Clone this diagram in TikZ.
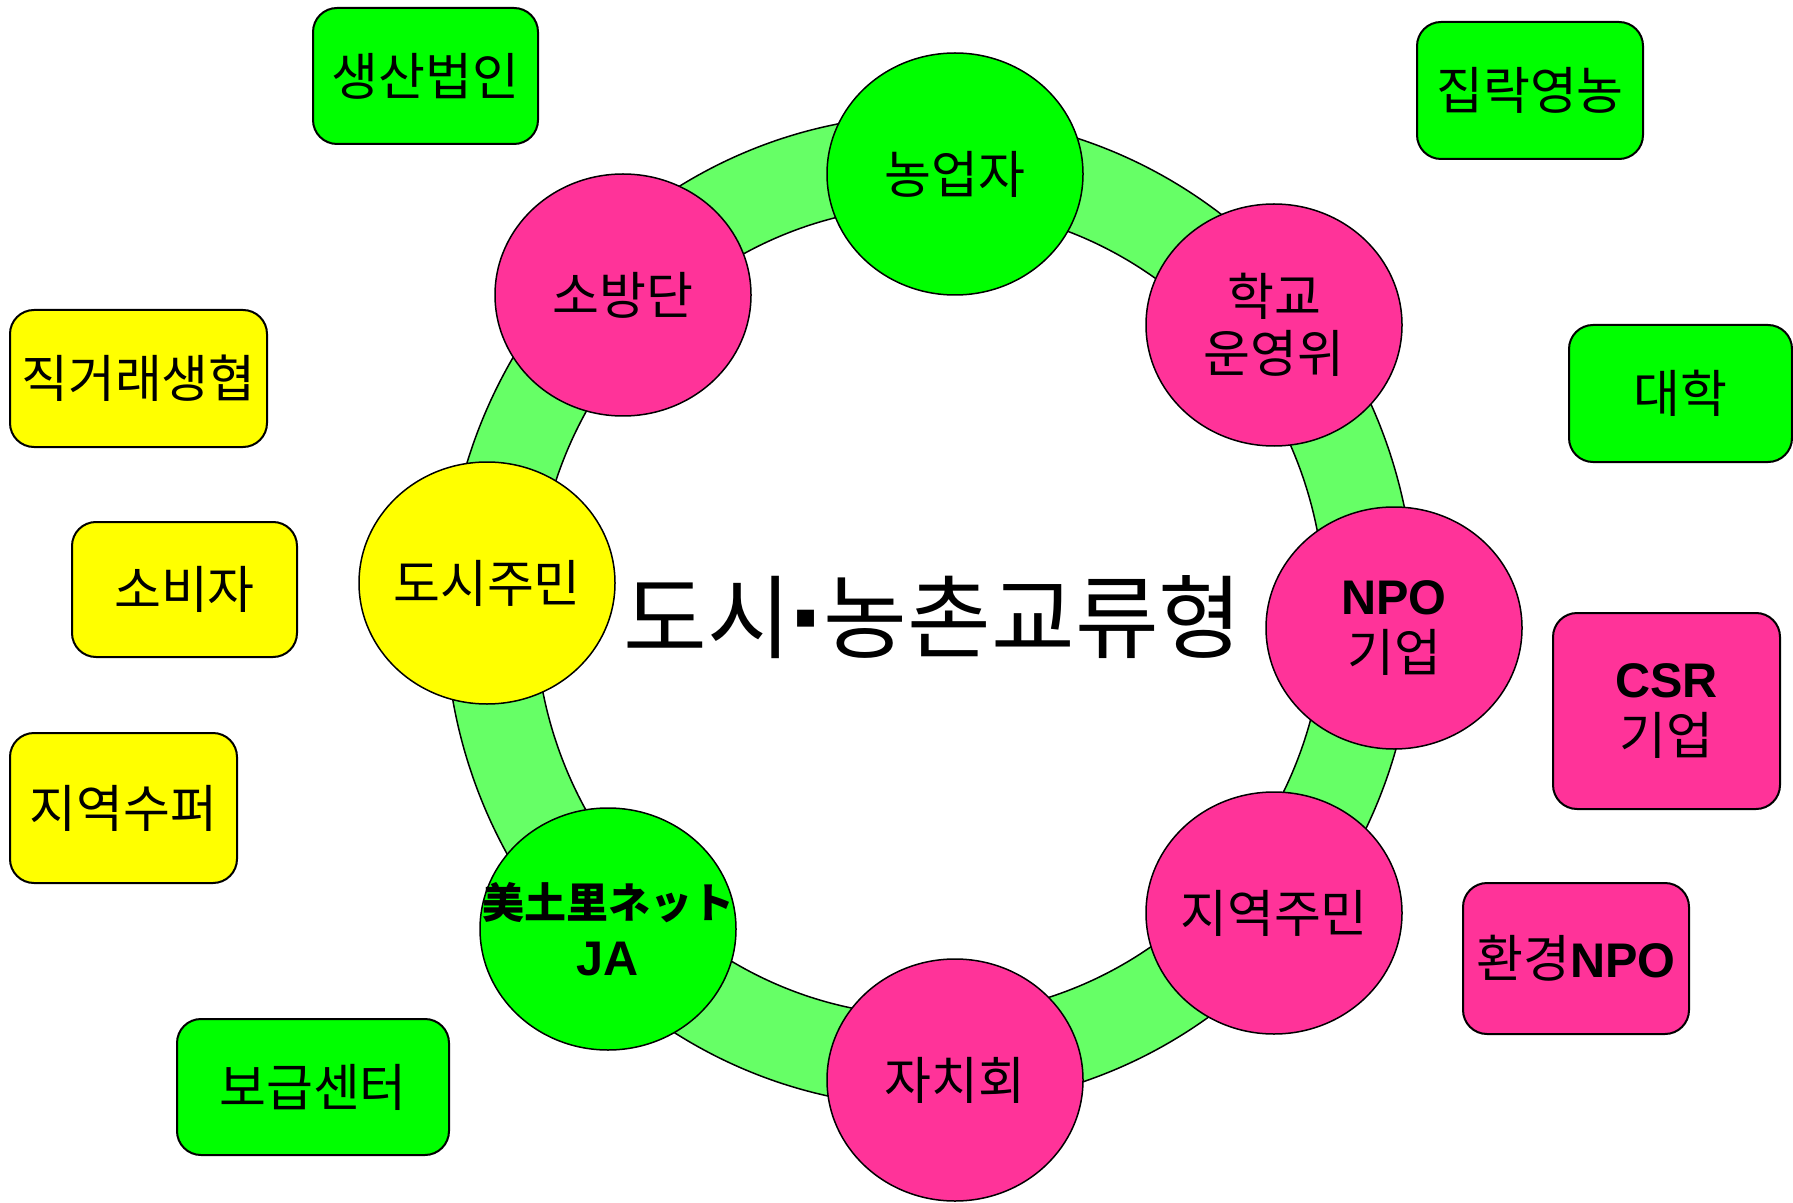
\documentclass[tikz,border=0pt]{standalone}
\usepackage{fontspec}
\usetikzlibrary{shapes.geometric}
\newfontfamily\kr{Noto Sans CJK KR}
\newfontfamily\jp{Noto Sans CJK JP}
\newfontfamily\lat{Liberation Sans}
\newfontfamily\dv{DejaVu Sans}
\newcommand\bl[1]{{\lat\bfseries\fontsize{24.3pt}{28.5pt}\selectfont #1}}
\definecolor{ringg}{RGB}{102,255,102}
\definecolor{gr}{RGB}{0,255,0}
\definecolor{pk}{RGB}{255,51,153}
\definecolor{yl}{RGB}{255,255,0}
\begin{document}
\begin{tikzpicture}[x=0.5pt,y=-0.5pt,
  lbl/.style={font=\kr\fontsize{25.5pt}{28.5pt}\selectfont, align=center, text=black},
  circ/.style={lbl, ellipse, draw=black, line width=0.75pt, minimum width=128pt, minimum height=121pt, inner sep=0pt, inner xsep=-20pt},
  bx/.style={lbl, draw=black, line width=1pt, rounded corners=12pt, inner sep=0pt},
  gbox/.style={bx, fill=gr, minimum width=113pt, minimum height=68pt},
  ybox/.style={bx, fill=yl, minimum width=113pt, minimum height=68pt},
  pbox/.style={bx, fill=pk, minimum width=113pt, minimum height=75pt}]
\useasboundingbox (0,0) rectangle (1793,1203);
% ring
\fill[ringg, even odd rule] (930,611) ellipse [x radius=485, y radius=496]
  (930,611) ellipse [x radius=395, y radius=405];
\draw[line width=0.75pt] (930,611) ellipse [x radius=485, y radius=496];
\draw[line width=0.75pt] (930,611) ellipse [x radius=395, y radius=405];
% circles
\node[circ, fill=gr] (farmer) at (955,174) {농업자};
\node[circ, fill=pk] (school) at (1274,325) {학교\\운영위};
\node[circ, fill=pk] (npo) at (1394,628) {\bl{NPO}\\기업};
\node[circ, fill=pk] (resid) at (1274,913) {지역주민};
\node[circ, fill=pk] (assoc) at (955,1080) {자치회};
\node[circ, fill=gr] (ja) at (608,929) {\makebox[0pt][c]{\jp\bfseries\fontsize{21pt}{26.5pt}\selectfont 美土里ネット}\\\bl{JA}};
\node[circ, fill=yl] (citizen) at (487,583) {도시주민};
\node[circ, fill=pk] (fire) at (623,295) {소방단};
% boxes
\node[gbox, minimum width=112.5pt] (corp) at (425.5,76) {생산법인};
\node[ybox, minimum width=128.5pt, minimum height=68.5pt] (coop) at (138.5,378.5) {직거래생협};
\node[ybox, minimum width=112.5pt, minimum height=67.5pt] (consumer) at (184.5,589.5) {소비자};
\node[ybox, minimum width=113.5pt, minimum height=75pt] (super) at (123.5,808) {지역수퍼};
\node[gbox, minimum width=136pt] (center) at (313,1087) {보급센터};
\node[gbox, minimum height=68.5pt] (village) at (1530,90.5) {집락영농};
\node[gbox, minimum width=111.5pt, minimum height=68.5pt] (univ) at (1680.5,393.5) {대학};
\node[pbox, minimum width=113.5pt, minimum height=98pt] (csr) at (1666.5,711) {\bl{CSR}\\기업};
\node[pbox, minimum height=75.5pt] (envnpo) at (1576,958.5) {환경\bl{NPO}};
% title
\node[font=\kr\fontsize{45.5pt}{50pt}\selectfont, inner sep=0pt] (title) at (933,617)
  {도시\hspace{2pt}\raisebox{12pt}{\dv\fontsize{17pt}{17pt}\selectfont ▪}\hspace{3pt}농촌교류형};
\end{tikzpicture}
\end{document}
